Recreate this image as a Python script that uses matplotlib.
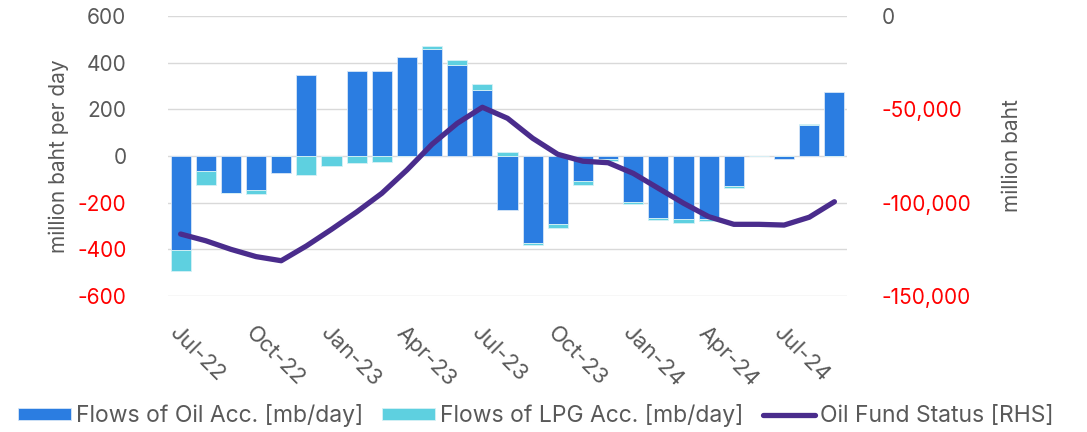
import matplotlib
matplotlib.use("Agg")
import numpy as np
import matplotlib.pyplot as plt
from matplotlib.ticker import FuncFormatter

plt.rcParams['font.family'] = ['Inter', 'DejaVu Sans']

months = ['Jul-22', 'Aug-22', 'Sep-22', 'Oct-22', 'Nov-22', 'Dec-22',
          'Jan-23', 'Feb-23', 'Mar-23', 'Apr-23', 'May-23', 'Jun-23',
          'Jul-23', 'Aug-23', 'Sep-23', 'Oct-23', 'Nov-23', 'Dec-23',
          'Jan-24', 'Feb-24', 'Mar-24', 'Apr-24', 'May-24', 'Jun-24',
          'Jul-24', 'Aug-24', 'Sep-24']

# million baht per day
oil_flow = [-403, -66, -158, -147, -73, 347,
            0, 364, 363, 424, 460, 391,
            284, -231, -374, -291, -107, -12,
            -196, -266, -270, -270, -127, 0,
            -14, 133, 274]
lpg_flow = [-88, -60, -2, -14, 0, -80,
            -45, -30, -26, 0, 11, 20,
            26, 16, -9, -16, -16, -8,
            -11, -7, -16, -9, -9, 0,
            0, 4, 0]

# million baht (RHS)
fund_status = [-116800, -120400, -125000, -128900, -131100, -123200,
               -114300, -105000, -95000, -82500, -68700, -57500,
               -48900, -54800, -65500, -74100, -77800, -78600,
               -84300, -92300, -100300, -107500, -111600, -111600,
               -112000, -107800, -99500]

OIL = '#2B7DE1'
LPG = '#5ED0E0'
LINE = '#4A2C8C'
GREY = '#595959'

oil = np.array(oil_flow, dtype=float)
lpg = np.array(lpg_flow, dtype=float)
x = np.arange(len(months))

# stack: LPG continues from the end of the oil bar in the same direction
lpg_base = np.where(np.sign(lpg) == np.sign(oil), oil, 0.0)

fig = plt.figure(figsize=(10.87, 4.32), dpi=100)
ax = fig.add_axes([0.1546, 0.3148, 0.6246, 0.6482])
ax2 = ax.twinx()

ax.set_zorder(1)
ax.patch.set_visible(False)
ax2.set_zorder(2)

w = 0.8
ax.bar(x, oil, width=w, color=OIL, edgecolor='#d6e6f7', linewidth=0.6,
       label='Flows of Oil Acc. [mb/day]', zorder=3)
ax.bar(x, lpg, bottom=lpg_base, width=w, color=LPG, edgecolor='#d6f1f5',
       linewidth=0.6, label='Flows of LPG Acc. [mb/day]', zorder=3)
ax2.plot(x, fund_status, color=LINE, linewidth=3.8, solid_capstyle='round',
         label='Oil Fund Status [RHS]')

ax.set_xlim(-0.5, len(months) - 0.5)
ax.set_ylim(-600, 600)
ax.set_yticks(np.arange(-600, 601, 200))
ax2.set_ylim(-150000, 0)
ax2.set_yticks([-150000, -100000, -50000, 0])

ax.grid(axis='y', color='#d9d9d9', linewidth=1.0, zorder=0)
ax.set_axisbelow(True)

for a in (ax, ax2):
    for s in a.spines.values():
        s.set_visible(False)

ax.yaxis.set_major_formatter(FuncFormatter(lambda v, p: f'{v:.0f}'))
ax2.yaxis.set_major_formatter(FuncFormatter(lambda v, p: f'{v:,.0f}'))
ax.tick_params(axis='y', length=0, pad=30, labelsize=15, labelcolor=GREY)
ax2.tick_params(axis='y', length=0, pad=25, labelsize=15, labelcolor=GREY)
for t, v in zip(ax.get_yticklabels(), ax.get_yticks()):
    if v < 0:
        t.set_color('#FF0000')
for t, v in zip(ax2.get_yticklabels(), ax2.get_yticks()):
    if v < 0:
        t.set_color('#FF0000')

tick_pos = x[::3]
ax.set_xticks(tick_pos)
ax.set_xticklabels([months[i] for i in tick_pos], rotation=-45,
                   ha='left', va='top', rotation_mode='anchor',
                   fontsize=16, color=GREY)
ax.tick_params(axis='x', length=0, pad=19)

ax.set_ylabel('million baht per day', fontsize=15, color=GREY, labelpad=6)
ax2.set_ylabel('million baht', fontsize=15, color=GREY, labelpad=22)

h1, l1 = ax.get_legend_handles_labels()
h2, l2 = ax2.get_legend_handles_labels()
fig.legend(h1 + h2, l1 + l2, loc='lower center', bbox_to_anchor=(0.493, -0.037),
           ncol=3, frameon=False, fontsize=16.5, handlelength=2.3,
           handleheight=0.45, handletextpad=0.2, columnspacing=0.85,
           labelcolor=GREY)

fig.savefig('out.png', dpi=100)
